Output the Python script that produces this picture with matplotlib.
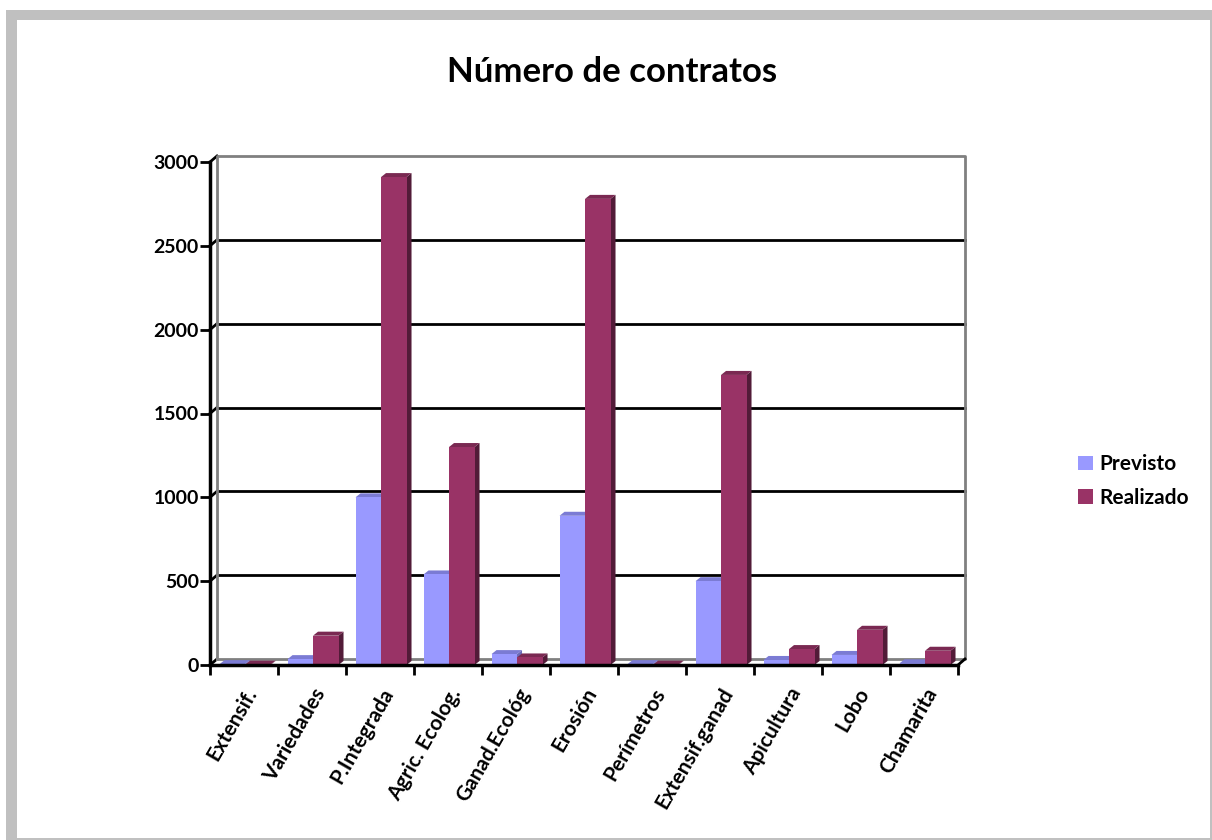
import matplotlib
matplotlib.use("Agg")
import matplotlib.pyplot as plt
from matplotlib.patches import Polygon, Rectangle, Patch
import numpy as np

categorias = ["Extensif.", "Variedades", "P.Integrada", "Agric. Ecolog.", "Ganad.Ecológ",
              "Erosión", "Perímetros", "Extensif.ganad", "Apicultura", "Lobo", "Chamarita"]
previsto = [5, 35, 1000, 540, 65, 890, 5, 500, 30, 60, 10]
realizado = [2, 175, 2910, 1300, 45, 2780, 2, 1730, 95, 210, 85]
yticks = [0, 500, 1000, 1500, 2000, 2500, 3000]

plt.rcParams['font.family'] = ['Lato', 'DejaVu Sans']
plt.rcParams['font.weight'] = 'bold'

W, H = 1212, 840
fig = plt.figure(figsize=(W / 100, H / 100), dpi=100)
fig.patch.set_facecolor('white')

# grey frame around the chart area
fig.add_artist(Rectangle((6 / W, 0), 1 - 6 / W, 1 - 10 / H, transform=fig.transFigure,
                         facecolor='#c0c0c0', edgecolor='none', zorder=0))
fig.add_artist(Rectangle((17 / W, 2 / H), (1210 - 17) / W, (838 - 20) / H,
                         transform=fig.transFigure, facecolor='white', edgecolor='none', zorder=0))

# front plane of the plot
ax = fig.add_axes([210 / W, (H - 665) / H, (958 - 210) / W, (665 - 162) / H])
ax.set_facecolor('none')
n = len(categorias)
ax.set_xlim(0, n)
ax.set_ylim(0, 3000)

px_x = (958 - 210) / n          # pixels per category
px_y = (665 - 162) / 3000.0     # pixels per unit
wdx, wdy = 7 / px_x, 6 / px_y   # wall depth in data units
bdx, bdy = 5 / px_x, 4 / px_y   # bar depth in data units

# back wall, gridlines and floor
for v in yticks[1:-1]:
    ax.plot([wdx, n + wdx], [v + wdy, v + wdy], color='black', lw=2, clip_on=False, zorder=1)
for v in yticks:
    ax.plot([0, wdx], [v, v + wdy], color='black', lw=2, clip_on=False, zorder=1)
grey = '#808080'
ax.plot([wdx, wdx, n + wdx, n + wdx, wdx], [wdy, 3000 + wdy, 3000 + wdy, wdy, wdy],
        color=grey, lw=2, clip_on=False, zorder=1)
ax.plot([n, n + wdx], [0, wdy], color='black', lw=2, clip_on=False, zorder=1)

# 3D-looking columns
x = np.arange(n)
off, bw = 0.14, 0.375
series = [
    (previsto, off, '#9999ff', '#7b7bd4', '#6a6ab8'),
    (realizado, off + bw, '#993366', '#7a2952', '#521b38'),
]
for vals, shift, c_front, c_top, c_side in series:
    for xi, h in zip(x, vals):
        x0 = xi + shift
        x1 = x0 + bw
        ax.add_patch(Polygon([(x1, 0), (x1, h), (x1 + bdx, h + bdy), (x1 + bdx, bdy)],
                             closed=True, facecolor=c_side, edgecolor='none', zorder=3, clip_on=False))
        ax.add_patch(Polygon([(x0, h), (x1, h), (x1 + bdx, h + bdy), (x0 + bdx, h + bdy)],
                             closed=True, facecolor=c_top, edgecolor='none', zorder=3, clip_on=False))
    ax.bar(x + shift, vals, width=bw, align='edge', color=c_front, zorder=3)

# axes
for s in ['top', 'right']:
    ax.spines[s].set_visible(False)
for s in ['left', 'bottom']:
    ax.spines[s].set_linewidth(2.5)
    ax.spines[s].set_zorder(4)
ax.set_yticks(yticks)
ax.set_yticklabels([str(v) for v in yticks], fontsize=14, fontweight='bold')
ax.tick_params(axis='y', length=7, width=2, pad=1)
ax.set_xticks(x + 0.5)
ax.set_xticklabels(categorias, rotation=60, ha='right', va='top', rotation_mode='anchor',
                   fontsize=15, fontweight='bold')
ax.tick_params(axis='x', which='major', length=0, pad=14)
ax.set_xticks(np.arange(n + 1), minor=True)
ax.tick_params(axis='x', which='minor', length=7, width=2)

fig.text(612 / W, 1 - 72 / H, "Número de contratos", ha='center', va='center',
         fontsize=25, fontweight='bold')

handles = [Patch(facecolor='#9999ff', label='Previsto'),
           Patch(facecolor='#993366', label='Realizado')]
fig.legend(handles=handles, loc='center left', bbox_to_anchor=(1070 / W, 1 - 481 / H),
           frameon=False, borderaxespad=0, handlelength=0.7, handleheight=0.7,
           handletextpad=0.3, labelspacing=0.65, prop={'size': 15, 'weight': 'bold'})

fig.savefig('out.png', dpi=100)
